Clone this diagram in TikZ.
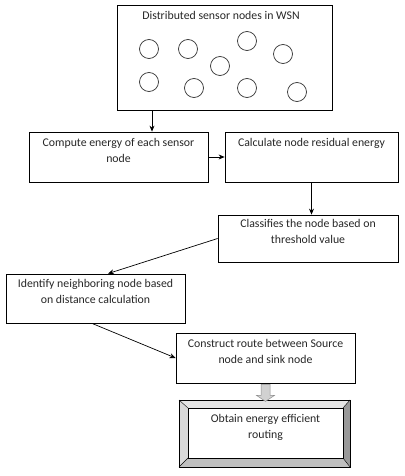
\documentclass[tikz,border=0pt]{standalone}
\usepackage{fontspec}
\setmainfont{Carlito}
\usetikzlibrary{arrows.meta}
\begin{document}
\begin{tikzpicture}[x=1pt,y=-1pt,
  box/.style={draw=black,line width=0.8pt,inner sep=0pt},
  txt/.style={anchor=north,align=center,inner sep=0pt,font=\fontsize{11.8}{16}\selectfont,text=black!85},
  sensor/.style={draw=black!80,line width=0.7pt,circle,minimum size=19pt,inner sep=0pt},
  arr/.style={draw=black,line width=0.7pt,-{Stealth[length=6pt,width=5pt]}}]
\useasboundingbox (0,0) rectangle (404,476);
% top box
\node[box,minimum width=215pt,minimum height=105pt] (top) at (224.5,57.5) {};
\node[txt] (toptxt) at (221,11) {Distributed sensor nodes in WSN};
\node[sensor] (s1) at (149,49) {};
\node[sensor] (s2) at (188,49) {};
\node[sensor] (s3) at (247,41) {};
\node[sensor] (s4) at (283,54) {};
\node[sensor] (s5) at (220,66) {};
\node[sensor] (s6) at (149,82) {};
\node[sensor] (s7) at (194,88) {};
\node[sensor] (s8) at (247,88) {};
\node[sensor] (s9) at (297,92) {};
% row 2
\node[box,minimum width=179pt,minimum height=50pt] (compute) at (118.5,157) {};
\node[txt] (computetxt) at (118.5,138) {Compute energy of each sensor\\node};
\node[box,minimum width=173pt,minimum height=50pt] (calc) at (311.5,157) {};
\node[txt] (calctxt) at (311.5,138) {Calculate node residual energy};
% classify
\node[box,minimum width=180pt,minimum height=47pt] (classify) at (308,238.5) {};
\node[txt] (classifytxt) at (308,219) {Classifies the node based on\\threshold value};
% identify
\node[box,minimum width=179pt,minimum height=49pt] (identify) at (95.5,298.5) {};
\node[txt] (identifytxt) at (95.5,279) {Identify neighboring node based\\on distance calculation};
% construct
\node[box,minimum width=179pt,minimum height=50pt] (construct) at (265.5,358) {};
\node[txt] (constructtxt) at (265.5,339) {Construct route between Source\\node and sink node};
% obtain (bevel)
\coordinate (o1) at (179,400);
\coordinate (o2) at (350,400);
\coordinate (o3) at (350,467);
\coordinate (o4) at (179,467);
\coordinate (i1) at (188,408);
\coordinate (i2) at (343,408);
\coordinate (i3) at (343,458);
\coordinate (i4) at (188,458);
\fill[black!10] (o1) -- (o2) -- (i2) -- (i1) -- cycle;
\fill[black!15] (o1) -- (i1) -- (i4) -- (o4) -- cycle;
\fill[black!40] (o2) -- (o3) -- (i3) -- (i2) -- cycle;
\fill[black!25] (o4) -- (i4) -- (i3) -- (o3) -- cycle;
\draw[line width=0.8pt] (o1) rectangle (o3);
\draw[line width=0.6pt] (i1) rectangle (i3);
\draw[line width=0.4pt] (o1) -- (i1) (o2) -- (i2) (o3) -- (i3) (o4) -- (i4);
\node[box,draw=none,minimum width=155pt,minimum height=50pt] (obtain) at (265.5,433) {};
\node[txt] (obtaintxt) at (265.5,414) {Obtain energy efficient\\routing};
% connectors
\coordinate (topout) at ([xshift=-72.5pt]top.south);
\draw[arr] (topout) -- (topout |- compute.north);
\draw[arr] (compute.east) -- (calc.west);
\draw[arr] (calc.south) -- (calc.south |- classify.north);
\draw[arr] (classify.west) -- ([xshift=12.5pt]identify.north);
\draw[arr] ([xshift=-3.5pt]identify.south) -- (construct.west);
% hollow block arrow
\coordinate (ba) at ([yshift=-1pt]construct.south);
\filldraw[fill=black!18,draw=black!45,line width=0.5pt]
  ([xshift=-4.5pt]ba) -- ([xshift=4.5pt]ba) -- ([xshift=4.5pt,yshift=-11pt]ba)
  -- ([xshift=9pt,yshift=-11pt]ba) -- ([yshift=-17pt]ba) -- ([xshift=-9pt,yshift=-11pt]ba)
  -- ([xshift=-4.5pt,yshift=-11pt]ba) -- cycle;
\end{tikzpicture}
\end{document}
